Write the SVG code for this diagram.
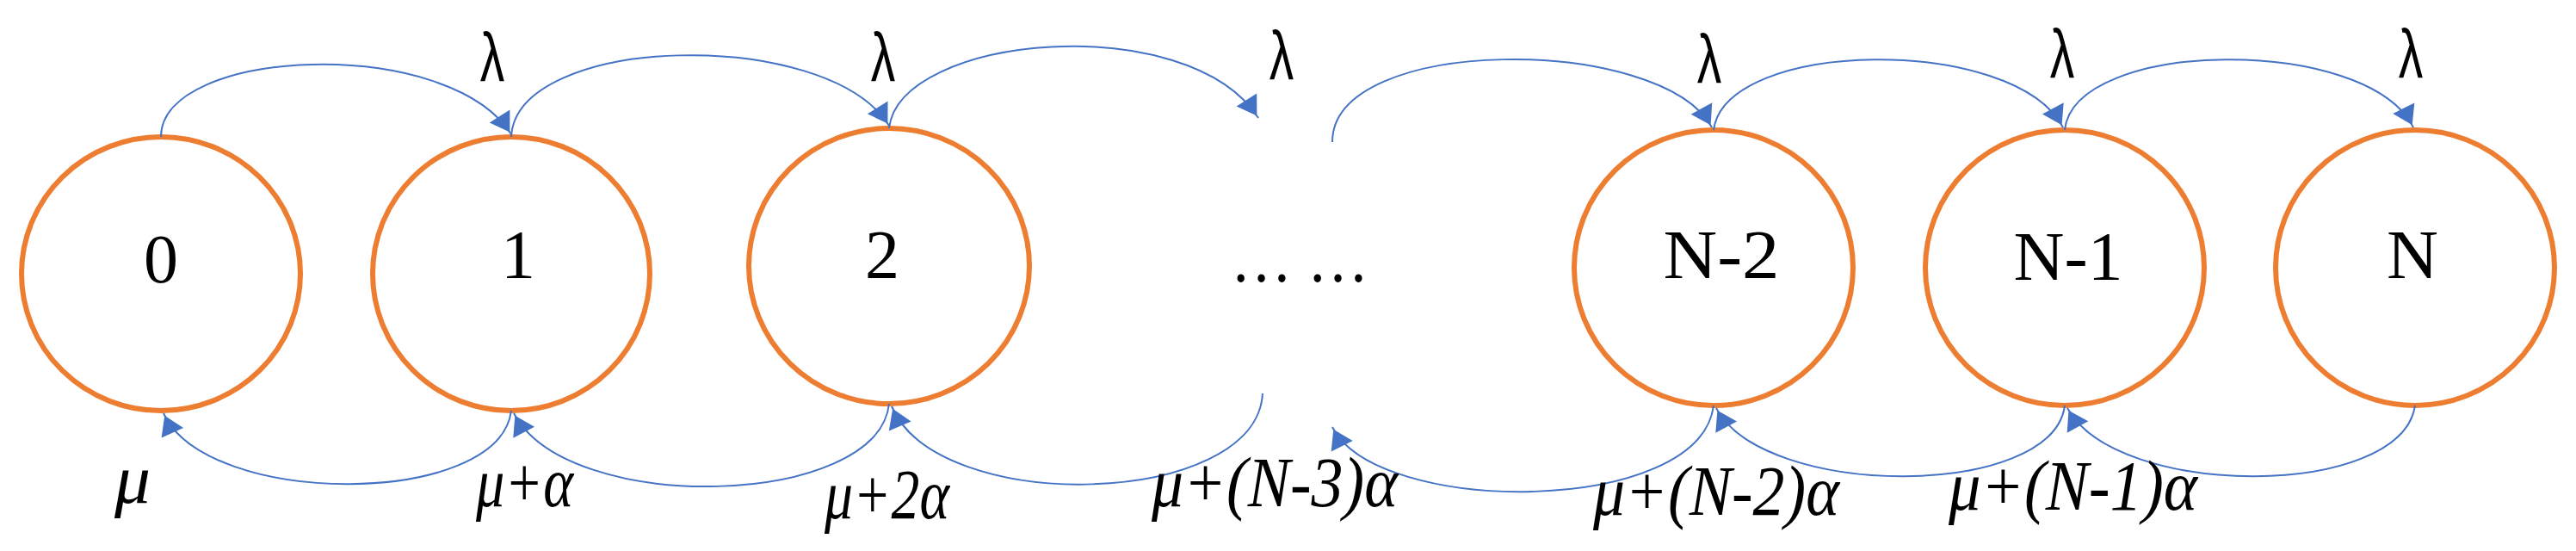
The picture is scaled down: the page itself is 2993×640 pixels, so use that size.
<svg xmlns="http://www.w3.org/2000/svg" width="2993" height="640" viewBox="0 0 2993 640">
<defs>
<marker id="ah" viewBox="0 0 10 10" refX="9" refY="5" markerWidth="10" markerHeight="10" markerUnits="userSpaceOnUse" orient="auto" style="overflow:visible">
<path d="M-16,-9 L6,5 L-16,19 Z" fill="#4472C4"/>
</marker>
<style>
.n{fill:#fff;stroke:#ED7D31;stroke-width:6}
.t{font-family:"Liberation Serif",serif;font-size:80px;fill:#000;text-anchor:middle}
.l{font-family:"Liberation Sans",sans-serif;font-size:76px;fill:#000;text-anchor:middle}
.b{font-family:"Liberation Serif",serif;font-style:italic;font-size:82px;fill:#000}
.c{fill:none;stroke:#4472C4;stroke-width:2;marker-end:url(#ah)}
</style>
</defs>
<rect width="2993" height="640" fill="#fff"/>
<g id="node0"><ellipse class="n" cx="187" cy="318" rx="162" ry="159"/><text class="t" x="187" y="328">0</text></g>
<g id="node1"><ellipse class="n" cx="594" cy="318" rx="161" ry="159"/><text class="t" x="602" y="323">1</text></g>
<g id="node2"><ellipse class="n" cx="1033" cy="309" rx="163" ry="160"/><text class="t" x="1025" y="323">2</text></g>
<g id="dots"><text class="t" x="1510" y="327" textLength="160" lengthAdjust="spacingAndGlyphs">… …</text></g>
<g id="nodeN2"><ellipse class="n" cx="1991" cy="311" rx="162" ry="160"/><text class="t" x="2000" y="323" textLength="135" lengthAdjust="spacingAndGlyphs">N-2</text></g>
<g id="nodeN1"><ellipse class="n" cx="2399" cy="311" rx="162" ry="160"/><text class="t" x="2403" y="325" textLength="127" lengthAdjust="spacingAndGlyphs">N-1</text></g>
<g id="nodeN"><ellipse class="n" cx="2806" cy="311" rx="162" ry="160"/><text class="t" x="2803" y="323" textLength="60" lengthAdjust="spacingAndGlyphs">N</text></g>
<g id="connectors">
<path class="c" d="M187,159 C187,55 520,40 594,156"/>
<path class="c" d="M594,159 C600,40 960,30 1033,146"/>
<path class="c" d="M1033,149 C1045,40 1380,10 1462,137"/>
<path class="c" d="M1548,165 C1548,40 1930,40 1989,148"/>
<path class="c" d="M1991,151 C2005,45 2340,40 2397,148"/>
<path class="c" d="M2399,151 C2410,45 2750,40 2804,148"/>
<path class="c" d="M594,477 C580,590 240,590 190,480"/>
<path class="c" d="M1033,469 C1020,590 660,600 597,480"/>
<path class="c" d="M1467,457 C1460,590 1090,600 1036,472"/>
<path class="c" d="M1991,471 C1975,600 1600,600 1548,496"/>
<path class="c" d="M2399,471 C2385,580 2050,580 1994,474"/>
<path class="c" d="M2806,471 C2790,580 2460,580 2402,474"/>
</g>
<g id="labels">
<text class="l" transform="translate(572 94) scale(0.75 1.05)">λ</text>
<text class="l" transform="translate(1026 94) scale(0.75 1.05)">λ</text>
<text class="l" transform="translate(1489 92) scale(0.75 1.05)">λ</text>
<text class="l" transform="translate(1986 96) scale(0.75 1.05)">λ</text>
<text class="l" transform="translate(2396 90) scale(0.75 1.05)">λ</text>
<text class="l" transform="translate(2801 90) scale(0.75 1.05)">λ</text>
<text class="b" x="133" y="584" textLength="42" lengthAdjust="spacingAndGlyphs">μ</text>
<text class="b" x="553" y="588" textLength="113" lengthAdjust="spacingAndGlyphs">μ+α</text>
<text class="b" x="958" y="602" textLength="145" lengthAdjust="spacingAndGlyphs">μ+2α</text>
<text class="b" x="1338" y="588" textLength="286" lengthAdjust="spacingAndGlyphs">μ+(N-3)α</text>
<text class="b" x="1851" y="598" textLength="286" lengthAdjust="spacingAndGlyphs">μ+(N-2)α</text>
<text class="b" x="2264" y="592" textLength="289" lengthAdjust="spacingAndGlyphs">μ+(N-1)α</text>
</g>
</svg>
